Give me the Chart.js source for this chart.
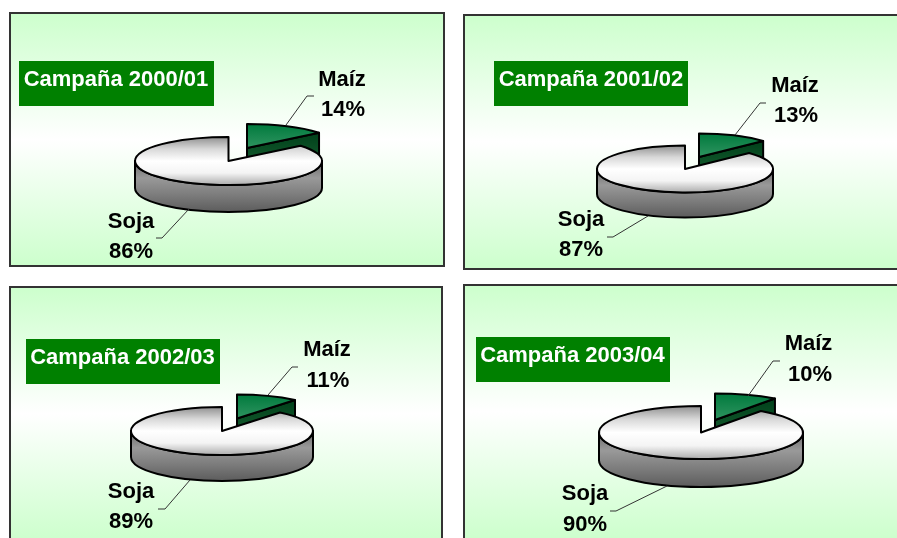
<!DOCTYPE html>
<html lang="es">
<head>
<meta charset="utf-8">
<title>Campañas</title>
<script src="https://cdn.jsdelivr.net/npm/chart.js@4"></script>
<style>
    html, body { margin: 0; padding: 0; background: #fff; width: 897px; height: 538px; overflow: hidden; }
    #page { position: relative; width: 897px; height: 538px; overflow: hidden; }
    canvas {
        position: absolute;
        box-sizing: border-box;
        background: linear-gradient(to bottom, #ccffcc 0%, #ffffff 50%, #ccffcc 100%);
        outline: 2px solid #333;
        outline-offset: -2px;
    }
</style>
</head>
<body>
<div id="page"></div>
<script>
// data
const categories = ['Maíz', 'Soja'];
const campaigns = ['Campaña 2000/01', 'Campaña 2001/02', 'Campaña 2002/03', 'Campaña 2003/04'];
const maizValues = [14, 13, 11, 10];
const sojaValues = [86, 87, 89, 90];

// layout of each panel, page coordinates
const panelBoxes = [[9, 12, 436, 255], [463, 14, 438, 256], [9, 286, 434, 256], [463, 284, 438, 256]];
const titleBoxes = [[19, 61, 195, 45], [494, 61, 194, 45], [26, 339, 194, 45], [476, 337, 194, 45]];
const titleTextAt = [[116, 80], [591, 80], [122.5, 358], [572.5, 356]];
const pieCentres = [[228.5, 161], [685, 169], [222, 431], [701, 432.5]];
const pieRadii = [93.5, 88, 91, 102];
const pieFlat = [24, 23.5, 24, 26.5];
const pieDepth = [27, 25, 26, 28];
const maizShift = [[18.5, -13], [14, -12], [15, -12.5], [14, -12.5]];
const maizLabelAt = [[[342, 80], [343, 110]], [[795, 86], [796, 116]], [[327, 350], [328, 381]], [[808.5, 344], [810, 375]]];
const sojaLabelAt = [[[131, 222], [131, 252]], [[581, 220], [581, 250]], [[131, 492], [131, 522]], [[585, 494], [585, 525]]];
const maizLeaders = [
    [[286, 125], [307, 96], [314, 96]],
    [[735, 135], [760, 103], [766, 103]],
    [[268, 395], [292, 367], [298, 367]],
    [[748, 396], [773, 361], [780, 361]]
];
const sojaLeaders = [
    [[189, 209], [162, 238], [156, 238]],
    [[648, 216], [613, 237], [607, 237]],
    [[190, 480], [165, 509], [158, 509]],
    [[667, 486], [616, 511], [610, 511]]
];

// colours
const topStops = [['#007a3d', '#2f9460', '#339966'], ['#909090', '#d8d8d8', '#ffffff', '#f4f4f4', '#acacac']];
const sideStops = [['#004d1f', '#1c6636'], ['#6a6a6a', '#999999', '#7c7c7c', '#5c5c5c']];
const wallStops = ['#00401a', '#1c6636'];
const LABEL_FONT = 'bold 22px "Liberation Sans", Arial, sans-serif';

function makeGradient(ctx, y0, y1, stops) {
    const g = ctx.createLinearGradient(0, y0, 0, y1);
    stops.forEach((c, i) => g.addColorStop(i / (stops.length - 1), c));
    return g;
}

function drawPolyline(ctx, pts) {
    ctx.beginPath();
    pts.forEach((p, i) => i ? ctx.lineTo(p[0], p[1]) : ctx.moveTo(p[0], p[1]));
    ctx.stroke();
}

// draws the pie squashed, with a rim, from the arcs Chart.js laid out
function pie3d(i) {
    const flat = pieFlat[i] / pieRadii[i];
    const depth = pieDepth[i];
    return {
        id: 'pie3d',
        beforeDatasetsDraw(chart) {
            const ctx = chart.ctx;
            ctx.save();
            ctx.lineWidth = 2;
            ctx.strokeStyle = '#000';
            ctx.lineJoin = 'round';

            chart.getDatasetMeta(0).data.forEach((arc, k) => {
                const r = arc.outerRadius;
                const ry = r * flat;
                const shift = k === 0 ? maizShift[i] : [0, 0];
                const x = arc.x + shift[0];
                const y = arc.y + shift[1];
                const start = arc.startAngle;
                const end = arc.endAngle;

                // cut face on the clockwise end of the slice
                if (Math.cos(end) > 0.01) {
                    const ex = x + r * Math.cos(end);
                    const ey = y + ry * Math.sin(end);
                    ctx.beginPath();
                    ctx.moveTo(x, y);
                    ctx.lineTo(ex, ey);
                    ctx.lineTo(ex, ey + depth);
                    ctx.lineTo(x, y + depth);
                    ctx.closePath();
                    ctx.fillStyle = makeGradient(ctx, ey, y + depth, wallStops);
                    ctx.fill();
                    ctx.stroke();
                }

                // outer rim, front half only
                const a = Math.max(start, 0);
                const b = Math.min(end, Math.PI);
                if (b > a) {
                    ctx.beginPath();
                    ctx.ellipse(x, y + depth, r, ry, 0, a, b);
                    ctx.ellipse(x, y, r, ry, 0, b, a, true);
                    ctx.closePath();
                    ctx.fillStyle = makeGradient(ctx, y, y + ry + depth, sideStops[k]);
                    ctx.fill();
                    ctx.stroke();
                }

                // top face
                ctx.beginPath();
                ctx.moveTo(x, y);
                ctx.ellipse(x, y, r, ry, 0, start, end);
                ctx.closePath();
                ctx.fillStyle = makeGradient(ctx, y - ry, y + ry, topStops[k]);
                ctx.fill();
                ctx.stroke();
            });
            ctx.restore();
            return false;
        },
        afterDraw(chart) {
            const ctx = chart.ctx;
            const box = panelBoxes[i];
            ctx.save();
            ctx.translate(-box[0], -box[1]);

            // leader lines
            ctx.lineWidth = 1;
            ctx.strokeStyle = '#333';
            drawPolyline(ctx, maizLeaders[i]);
            drawPolyline(ctx, sojaLeaders[i]);

            ctx.font = LABEL_FONT;
            ctx.textAlign = 'center';
            ctx.textBaseline = 'middle';

            // campaign tag
            const t = titleBoxes[i];
            ctx.fillStyle = '#008000';
            ctx.fillRect(t[0], t[1], t[2], t[3]);
            ctx.fillStyle = '#fff';
            ctx.fillText(campaigns[i], titleTextAt[i][0], titleTextAt[i][1]);

            // slice labels
            ctx.fillStyle = '#000';
            ctx.fillText(categories[0], maizLabelAt[i][0][0], maizLabelAt[i][0][1]);
            ctx.fillText(maizValues[i] + '%', maizLabelAt[i][1][0], maizLabelAt[i][1][1]);
            ctx.fillText(categories[1], sojaLabelAt[i][0][0], sojaLabelAt[i][0][1]);
            ctx.fillText(sojaValues[i] + '%', sojaLabelAt[i][1][0], sojaLabelAt[i][1][1]);
            ctx.restore();
        }
    };
}

function renderPanel(i) {
    const box = panelBoxes[i];
    const canvas = document.createElement('canvas');
    canvas.width = box[2];
    canvas.height = box[3];
    canvas.style.left = box[0] + 'px';
    canvas.style.top = box[1] + 'px';
    document.getElementById('page').appendChild(canvas);

    // padding puts the middle of the chart area on the pie centre
    const cx = pieCentres[i][0] - box[0];
    const cy = pieCentres[i][1] - box[1];
    const halfW = Math.min(cx, box[2] - cx);
    const halfH = Math.min(cy, box[3] - cy);

    new Chart(canvas.getContext('2d'), {
        type: 'pie',
        data: {
            labels: categories,
            datasets: [{ data: [maizValues[i], sojaValues[i]], borderWidth: 0 }]
        },
        options: {
            responsive: false,
            animation: false,
            radius: pieRadii[i],
            layout: {
                padding: {
                    left: cx - halfW,
                    right: box[2] - cx - halfW,
                    top: cy - halfH,
                    bottom: box[3] - cy - halfH
                }
            },
            plugins: { legend: { display: false }, tooltip: { enabled: false } }
        },
        plugins: [pie3d(i)]
    });
}

campaigns.forEach((c, i) => renderPanel(i));
</script>
</body>
</html>
